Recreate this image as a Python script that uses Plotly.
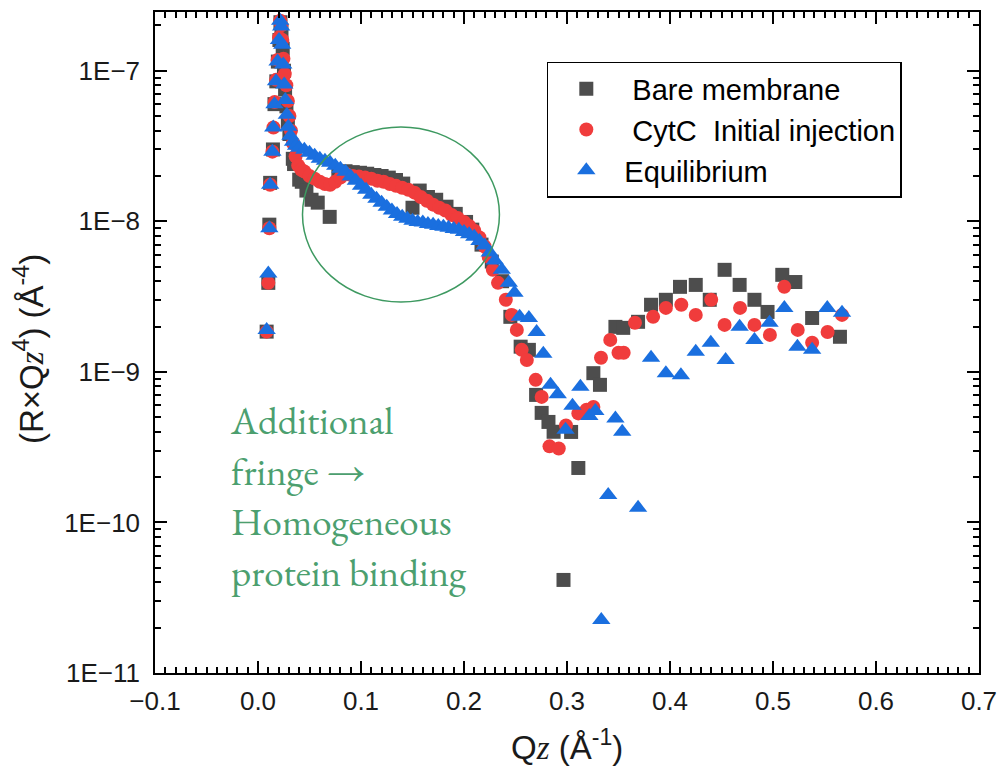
import plotly.graph_objects as go

# ---------------- data ----------------
qz_bare = [0.0084, 0.0100, 0.0110, 0.0118, 0.0145, 0.0160, 0.0178, 0.0193, 0.0208, 0.0218,
           0.0228, 0.0240, 0.0252, 0.0263, 0.0276, 0.0290, 0.0305, 0.0338, 0.0350, 0.0400,
           0.0425, 0.0470, 0.0520, 0.0580, 0.0696, 0.0780, 0.0850, 0.0920, 0.0990, 0.1060,
           0.1130, 0.1200, 0.1270, 0.1340, 0.1410, 0.1500, 0.1570, 0.1650, 0.1730, 0.1830,
           0.1920, 0.2020, 0.2080, 0.2170, 0.2270, 0.2370, 0.2450, 0.2550, 0.2630, 0.2700,
           0.2754, 0.2820, 0.2870, 0.2966, 0.3040, 0.3110, 0.3256, 0.3320, 0.3470, 0.3546,
           0.3690, 0.3816, 0.3960, 0.4097, 0.4250, 0.4386, 0.4530, 0.4676, 0.4820, 0.4947,
           0.5090, 0.5217, 0.5380, 0.5650]
r_bare = [1.85e-9, 3.9e-9, 9.5e-9, 1.8e-8, 3.0e-8, 6.0e-8, 8.5e-8, 1.15e-7, 1.6e-7, 2.1e-7,
          1.85e-7, 1.4e-7, 1.0e-7, 7.5e-8, 5.8e-8, 4.6e-8, 3.8e-8, 2.6e-8, 2.4e-8, 1.89e-8,
          1.83e-8, 1.6e-8, 1.39e-8, 1.33e-8, 1.07e-8, 2.05e-8, 2.15e-8, 2.12e-8, 2.1e-8, 2.07e-8,
          2.03e-8, 2.0e-8, 1.95e-8, 1.88e-8, 1.78e-8, 1.23e-8, 1.6e-8, 1.45e-8, 1.39e-8, 1.25e-8,
          1.12e-8, 9.9e-9, 8.8e-9, 7.0e-9, 5.4e-9, 4.0e-9, 2.32e-9, 1.47e-9, 1.40e-9, 7.03e-10,
          5.34e-10, 4.65e-10, 4.0e-10, 4.15e-11, 3.99e-10, 2.30e-10, 9.8e-10, 8.2e-10, 1.99e-9, 1.96e-9,
          2.15e-9, 2.79e-9, 3.01e-9, 3.67e-9, 3.78e-9, 3.01e-9, 4.76e-9, 3.78e-9, 3.01e-9, 2.50e-9,
          4.41e-9, 3.95e-9, 2.28e-9, 1.71e-9]

qz_cytc = [0.0084, 0.0100, 0.0110, 0.0118, 0.0140, 0.0150, 0.0162, 0.0176, 0.0190, 0.0204,
           0.0216, 0.0226, 0.0236, 0.0247, 0.0260, 0.0275, 0.0290, 0.0305, 0.0320, 0.0340,
           0.0365, 0.0390, 0.0420, 0.0450, 0.0500, 0.0550, 0.0600, 0.0650, 0.0700, 0.0750,
           0.0800, 0.0860, 0.0920, 0.0980, 0.1040, 0.1100, 0.1160, 0.1220, 0.1280, 0.1340,
           0.1400, 0.1460, 0.1520, 0.1580, 0.1640, 0.1700, 0.1760, 0.1820, 0.1880, 0.1940,
           0.2000, 0.2050, 0.2100, 0.2150, 0.2200, 0.2240, 0.2280, 0.2330, 0.2406, 0.2464,
           0.2513, 0.2560, 0.2610, 0.2696, 0.2754, 0.2830, 0.2920, 0.2990, 0.3110, 0.3190,
           0.3256, 0.3330, 0.3420, 0.3500, 0.3550, 0.3660, 0.3836, 0.3960, 0.4110, 0.4250,
           0.4400, 0.4530, 0.4680, 0.4820, 0.4970, 0.5110, 0.5240, 0.5380, 0.5530, 0.5670]
r_cytc = [1.85e-9, 3.9e-9, 9.0e-9, 1.75e-8, 2.9e-8, 4.2e-8, 6.2e-8, 8.7e-8, 1.18e-7, 1.66e-7,
          2.15e-7, 2.0e-7, 1.6e-7, 1.2e-7, 9.5e-8, 8.0e-8, 6.3e-8, 5.0e-8, 4.0e-8, 3.3e-8,
          2.7e-8, 2.35e-8, 2.2e-8, 2.14e-8, 2.0e-8, 1.92e-8, 1.83e-8, 1.77e-8, 1.75e-8, 1.83e-8,
          1.95e-8, 2.05e-8, 2.0e-8, 1.98e-8, 1.95e-8, 1.92e-8, 1.86e-8, 1.83e-8, 1.77e-8, 1.72e-8,
          1.67e-8, 1.62e-8, 1.55e-8, 1.45e-8, 1.37e-8, 1.29e-8, 1.23e-8, 1.18e-8, 1.10e-8, 1.05e-8,
          9.9e-9, 9.3e-9, 8.65e-9, 7.8e-9, 6.8e-9, 5.8e-9, 4.76e-9, 3.9e-9, 3.01e-9, 2.39e-9,
          1.9e-9, 1.40e-9, 1.20e-9, 8.85e-10, 6.82e-10, 3.2e-10, 3.1e-10, 4.4e-10, 5.3e-10, 5.6e-10,
          5.85e-10, 1.24e-9, 1.63e-9, 1.34e-9, 1.34e-9, 2.12e-9, 2.32e-9, 2.66e-9, 2.79e-9, 2.39e-9,
          3.01e-9, 2.05e-9, 2.66e-9, 2.05e-9, 1.76e-9, 3.67e-9, 1.90e-9, 1.56e-9, 1.84e-9, 2.39e-9]

qz_equil = [0.0084, 0.0100, 0.0110, 0.0118, 0.0140, 0.0148, 0.0160, 0.0175, 0.0190, 0.0204,
            0.0215, 0.0225, 0.0235, 0.0245, 0.0255, 0.0265, 0.0280, 0.0295, 0.0315, 0.0340,
            0.0370, 0.0400, 0.0450, 0.0500, 0.0550, 0.0600, 0.0650, 0.0700, 0.0750, 0.0800,
            0.0850, 0.0900, 0.0950, 0.1000, 0.1050, 0.1100, 0.1150, 0.1200, 0.1250, 0.1300,
            0.1350, 0.1400, 0.1450, 0.1500, 0.1550, 0.1600, 0.1650, 0.1700, 0.1750, 0.1800,
            0.1850, 0.1900, 0.1950, 0.2000, 0.2050, 0.2100, 0.2150, 0.2200, 0.2250, 0.2300,
            0.2367, 0.2435, 0.2490, 0.2540, 0.2630, 0.2705, 0.2770, 0.2840, 0.2910, 0.2986,
            0.3053, 0.3130, 0.3217, 0.3275, 0.3333, 0.3400, 0.3470, 0.3536, 0.3690, 0.3816,
            0.3960, 0.4106, 0.4250, 0.4396, 0.4540, 0.4676, 0.4820, 0.4966, 0.5110, 0.5237,
            0.5380, 0.5527, 0.5670]
r_equil = [1.9e-9, 4.5e-9, 9.0e-9, 1.75e-8, 2.9e-8, 4.2e-8, 6.0e-8, 8.5e-8, 1.15e-7, 1.6e-7,
           2.15e-7, 1.97e-7, 1.49e-7, 1.10e-7, 8.1e-8, 6.4e-8, 5.1e-8, 4.25e-8, 3.7e-8, 3.37e-8,
           3.18e-8, 3.08e-8, 2.99e-8, 2.85e-8, 2.72e-8, 2.60e-8, 2.52e-8, 2.45e-8, 2.34e-8, 2.23e-8,
           2.13e-8, 1.98e-8, 1.86e-8, 1.72e-8, 1.62e-8, 1.50e-8, 1.41e-8, 1.33e-8, 1.25e-8, 1.18e-8,
           1.12e-8, 1.07e-8, 1.04e-8, 1.01e-8, 9.9e-9, 9.8e-9, 9.6e-9, 9.5e-9, 9.3e-9, 9.2e-9,
           9.05e-9, 8.9e-9, 8.8e-9, 8.5e-9, 8.2e-9, 7.9e-9, 7.4e-9, 6.9e-9, 6.2e-9, 5.5e-9,
           4.76e-9, 3.90e-9, 3.35e-9, 2.32e-9, 2.28e-9, 1.84e-9, 1.32e-9, 8.2e-10, 7.1e-10, 4.12e-10,
           5.95e-10, 7.95e-10, 5.1e-10, 5.5e-10, 2.25e-11, 1.52e-10, 4.9e-10, 4.0e-10, 1.25e-10, 1.24e-9,
           9.8e-10, 9.5e-10, 1.36e-9, 1.56e-9, 1.20e-9, 1.99e-9, 1.63e-9, 2.12e-9, 2.66e-9, 1.47e-9,
           1.40e-9, 2.66e-9, 2.47e-9]

series_names = ["\u00a0Bare membrane", "\u00a0CytC\u00a0\u00a0Initial injection", "Equilibrium"]

y_tick_vals = [1e-11, 1e-10, 1e-9, 1e-8, 1e-7]
y_tick_text = ["1E\u221211", "1E\u221210", "1E\u22129", "1E\u22128", "1E\u22127"]
y_minor_vals = [m * 10.0 ** e for e in range(-11, -6) for m in range(2, 10)]

annotation_text = "Additional<br>fringe \u2192<br>Homogeneous<br>protein binding"

# ---------------- figure ----------------
sans = "Liberation Sans, Arial, sans-serif"
serif = "EB Garamond, Garamond, Liberation Serif, serif"

fig = go.Figure()
fig.add_trace(go.Scatter(x=qz_bare, y=r_bare, mode="markers", name=series_names[0],
                         marker=dict(symbol="square", size=14, color="#4d4d4d", line=dict(width=0))))
fig.add_trace(go.Scatter(x=qz_cytc, y=r_cytc, mode="markers", name=series_names[1],
                         marker=dict(symbol="circle", size=14, color="#f03c3c", line=dict(width=0))))
fig.add_trace(go.Scatter(x=qz_equil, y=r_equil, mode="markers", name=series_names[2],
                         marker=dict(symbol="triangle-up", size=16, color="#1a6fdf", line=dict(width=0))))

axis_common = dict(showline=True, linecolor="black", linewidth=1.5, mirror="ticks",
                   ticks="inside", tickwidth=1.5, tickcolor="black", ticklen=12,
                   showgrid=False, zeroline=False, automargin=False,
                   ticklabeloverflow="allow",
                   tickfont=dict(family=sans, size=26, color="#1a1a1a"))

fig.update_xaxes(range=[-0.1, 0.7], dtick=0.1, tick0=0, tickformat=".1f",
                 minor=dict(ticks="inside", ticklen=6, tickwidth=1.5, tickcolor="black", dtick=0.01, showgrid=False),
                 ticklabelstandoff=4, **axis_common)
fig.update_yaxes(type="log", range=[-11, -6.61], tickvals=y_tick_vals, ticktext=y_tick_text,
                 minor=dict(ticks="inside", ticklen=6, tickwidth=1.5, tickcolor="black",
                            tickvals=y_minor_vals, showgrid=False),
                 ticklabelstandoff=8, **axis_common)

fig.add_shape(type="circle", xref="paper", yref="paper",
              x0=0.1790, x1=0.4180, y0=0.5613, y1=0.826,
              line=dict(color="#3d9960", width=1.5))

fig.add_annotation(text=annotation_text, xref="paper", yref="paper", x=0.088, y=0.424,
                   xanchor="left", yanchor="top", align="left", showarrow=False,
                   font=dict(family=serif, size=39, color="#4c9f6f"))

fig.add_annotation(text="Q<span style='font-family:Liberation Serif'><i>z</i></span> (\u00c5<sup>-1</sup>)",
                   xref="paper", yref="paper", x=0.5, y=-0.109, xanchor="center", yanchor="middle",
                   showarrow=False, font=dict(family=sans, size=33, color="#1a1a1a"))
fig.add_annotation(text="(R\u00d7Q<span style='font-family:Liberation Serif'><i>z</i></span><sup>4</sup>) (\u00c5<sup>-4</sup>)",
                   xref="paper", yref="paper", x=-0.153, y=0.49, xanchor="center", yanchor="middle",
                   textangle=-90, showarrow=False, font=dict(family=sans, size=33, color="#1a1a1a"))

fig.update_layout(width=998, height=769, margin=dict(l=155, r=19, t=12, b=96, autoexpand=False),
                  paper_bgcolor="white", plot_bgcolor="white", showlegend=True,
                  legend=dict(x=0.4755, y=0.9244, xanchor="left", yanchor="top",
                              bordercolor="black", borderwidth=1.5, bgcolor="white",
                              itemwidth=66, font=dict(family=sans, size=29, color="black")))

fig.write_html("out.html")
